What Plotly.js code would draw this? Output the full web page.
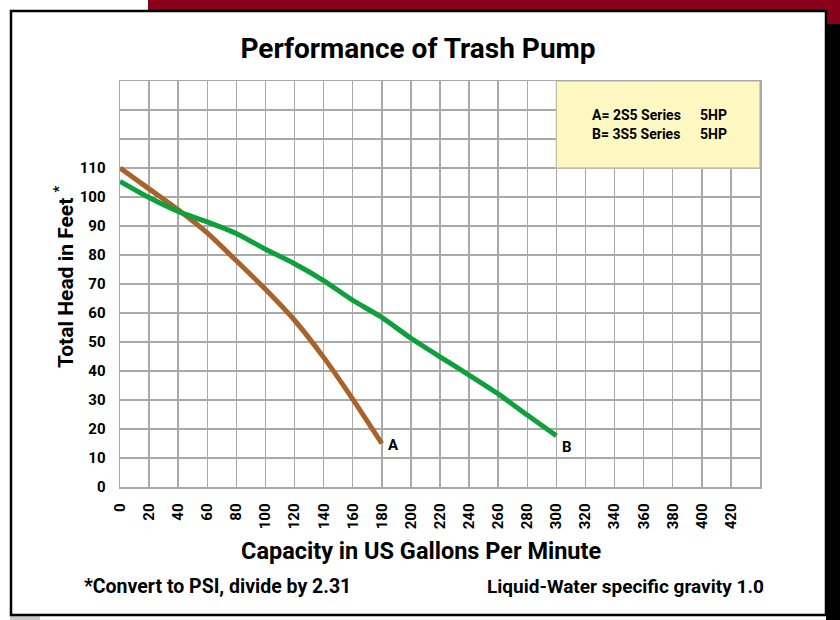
<!DOCTYPE html>
<html>
<head>
<meta charset="utf-8">
<script src="https://cdn.plot.ly/plotly-3.0.1.min.js"></script>
<style>html,body{margin:0;padding:0;background:#fff;}#chart{width:840px;height:620px;}</style>
</head>
<body>
<div id="chart"></div>
<script>
// ---- data ----
const flowA = [0, 20, 40, 60, 80, 100, 120, 140, 160, 180];
const headA = [110, 102.8, 95.6, 87.6, 78, 68.2, 57.5, 44.7, 30.3, 15];
const flowB = [0, 20, 40, 60, 80, 100, 120, 140, 160, 180, 200, 220, 240, 260, 280, 300];
const headB = [105.4, 99.8, 95, 91.4, 87.4, 82, 77, 71.2, 64.4, 58.5, 51.3, 44.9, 38.6, 32.1, 24.8, 17.7];
const xTickVals = [0,20,40,60,80,100,120,140,160,180,200,220,240,260,280,300,320,340,360,380,400,420];
const xTickText = ['0','20','40','60','80','100','120','140','160','180','200','220','240','260','280','300','320','340','360','380','400','420'];
const yTickVals = [0,10,20,30,40,50,60,70,80,90,100,110];
const yTickText = ['0','10','20','30','40','50','60','70','80','90','100','110'];
const seriesLabels = ['A', 'B'];
const legendLines = ['A= 2S5 Series', 'B= 3S5 Series'];
const legendPower = ['5HP', '5HP'];
const titleText = 'Performance of Trash Pump';
const xTitle = 'Capacity in US Gallons Per Minute';
const yTitle = 'Total Head in Feet <sup>*</sup>';
const noteLeft = '*Convert to PSI, divide by 2.31';
const noteRight = 'Liquid-Water specific gravity 1.0';

// ---- layout helpers (pixel -> paper) ----
const L = 120, R = 760, T = 81, B = 487;
const px = p => (p - L) / (R - L);
const py = p => (B - p) / (B - T);
const FONT = "Roboto, 'Liberation Sans', sans-serif";
const GRID = '#a9a9a9';

const traces = [
  {x: flowA, y: headA, mode: 'lines', line: {color: '#a8622b', width: 5, shape: 'spline', smoothing: 0.5}, hoverinfo: 'skip'},
  {x: flowB, y: headB, mode: 'lines', line: {color: '#0ea03c', width: 5, shape: 'spline', smoothing: 0.5}, hoverinfo: 'skip'}
];

const shapes = [
  {type: 'rect', xref: 'paper', yref: 'paper', x0: px(148), x1: px(840), y0: py(0), y1: py(24), fillcolor: '#880019', line: {width: 0}, layer: 'below'},
  {type: 'rect', xref: 'paper', yref: 'paper', x0: px(826), x1: px(840), y0: py(24), y1: py(620), fillcolor: '#000000', line: {width: 0}, layer: 'below'},
  {type: 'rect', xref: 'paper', yref: 'paper', x0: px(10), x1: px(40), y0: py(616), y1: py(620), fillcolor: '#c8c8c8', line: {width: 0}, layer: 'below'},
  {type: 'rect', xref: 'paper', yref: 'paper', x0: px(11), x1: px(826), y0: py(11), y1: py(615), fillcolor: '#ffffff', line: {color: '#000000', width: 2.5}, layer: 'below'},
  {type: 'rect', xref: 'x', yref: 'y', x0: 300, x1: 440, y0: 110, y1: 140, fillcolor: '#fff8c2', line: {color: '#c9c4a8', width: 1.5}, layer: 'above'}
];

const annotations = [
  {text: xTitle, xref: 'paper', yref: 'paper', x: px(421), y: py(551), showarrow: false, xanchor: 'center', yanchor: 'middle', font: {family: FONT, size: 23.5, weight: 700, color: '#000'}},
  {text: yTitle, xref: 'paper', yref: 'paper', x: px(64), y: py(277), showarrow: false, textangle: -90, xanchor: 'center', yanchor: 'middle', font: {family: FONT, size: 21, weight: 700, color: '#000'}},
  {text: noteLeft, xref: 'paper', yref: 'paper', x: px(217), y: py(586), showarrow: false, xanchor: 'center', yanchor: 'middle', font: {family: FONT, size: 19.5, weight: 700, color: '#000'}},
  {text: noteRight, xref: 'paper', yref: 'paper', x: px(625), y: py(586), showarrow: false, xanchor: 'center', yanchor: 'middle', font: {family: FONT, size: 19, weight: 700, color: '#000'}},
  {text: seriesLabels[0], xref: 'x', yref: 'y', x: flowA[flowA.length - 1], y: headA[headA.length - 1], xshift: 12, yshift: -1, xanchor: 'center', yanchor: 'middle', showarrow: false, font: {family: FONT, size: 15, weight: 700, color: '#000'}},
  {text: seriesLabels[1], xref: 'x', yref: 'y', x: flowB[flowB.length - 1], y: headB[headB.length - 1], xshift: 11, yshift: -11, xanchor: 'center', yanchor: 'middle', showarrow: false, font: {family: FONT, size: 15, weight: 700, color: '#000'}}
];
legendLines.forEach((t, i) => {
  annotations.push({text: t, xref: 'paper', yref: 'paper', x: px(590), y: py(115 + i * 19), xanchor: 'left', yanchor: 'middle', showarrow: false, font: {family: FONT, size: 14, weight: 700, color: '#000'}});
  annotations.push({text: legendPower[i], xref: 'paper', yref: 'paper', x: px(698), y: py(115 + i * 19), xanchor: 'left', yanchor: 'middle', showarrow: false, font: {family: FONT, size: 14, weight: 700, color: '#000'}});
});

const axisCommon = {
  showgrid: true, gridcolor: GRID, gridwidth: 1.5,
  showline: true, linecolor: GRID, linewidth: 1.5, mirror: true,
  zeroline: false, ticks: '', tickmode: 'array', fixedrange: true,
  tickfont: {family: FONT, size: 15, weight: 700, color: '#000'}
};

const layout = {
  width: 840, height: 620,
  margin: {l: L, r: 840 - R, t: T, b: 620 - B, pad: 0},
  paper_bgcolor: '#ffffff', plot_bgcolor: 'rgba(0,0,0,0)',
  showlegend: false,
  title: {text: titleText, x: 418 / 840, xref: 'container', xanchor: 'center', y: 1 - 48 / 620, yref: 'container', yanchor: 'middle', font: {family: FONT, size: 28, weight: 700, color: '#000'}},
  xaxis: Object.assign({}, axisCommon, {range: [0, 440], tickvals: xTickVals, ticktext: xTickText, tickangle: -90, ticklabelstandoff: 9,
    minor: {tickmode: 'linear', tick0: 0, dtick: 20, showgrid: true, gridcolor: GRID, gridwidth: 1.5, ticks: ''}}),
  yaxis: Object.assign({}, axisCommon, {range: [0, 140], tickvals: yTickVals, ticktext: yTickText, ticklabelstandoff: 10,
    minor: {tickmode: 'linear', tick0: 0, dtick: 10, showgrid: true, gridcolor: GRID, gridwidth: 1.5, ticks: ''}}),
  shapes: shapes,
  annotations: annotations
};

Plotly.newPlot('chart', traces, layout, {staticPlot: true, displayModeBar: false});
</script>
</body>
</html>
